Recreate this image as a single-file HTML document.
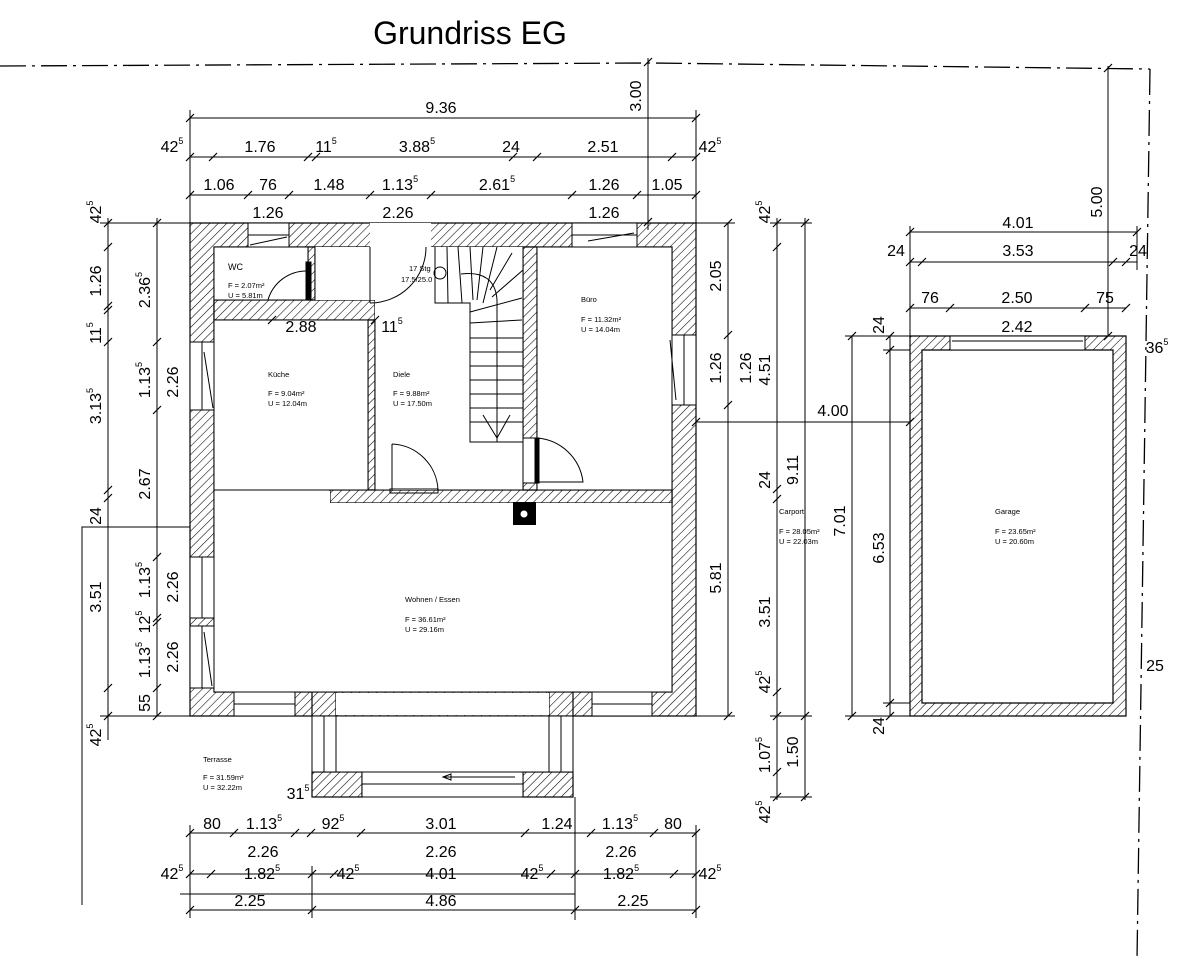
<!DOCTYPE html>
<html><head><meta charset="utf-8"><style>
html,body{margin:0;padding:0;background:#fff;}
svg{display:block;font-family:"Liberation Sans",sans-serif;}
.d{font-size:16px;}
.s{font-size:9px;}
.r{font-size:7.5px;}
</style></head><body>
<svg width="1196" height="971" viewBox="0 0 1196 971" xmlns="http://www.w3.org/2000/svg">
<defs>
<pattern id="h" width="6" height="6" patternUnits="userSpaceOnUse" patternTransform="rotate(45)">
<rect width="6" height="6" fill="#fff"/><line x1="0" y1="0" x2="0" y2="6" stroke="#000" stroke-width="1.1"/>
</pattern>
</defs>
<rect width="1196" height="971" fill="#fff"/>
<text x="470" y="44" font-size="32" text-anchor="middle">Grundriss EG</text>

<g stroke="#000" stroke-width="1.3" fill="none" stroke-dasharray="26,6,3,6">
<path d="M0 66 L650 63 L1150 69"/>
<path d="M1150 69 L1137 960"/>
</g>

<g stroke="#000" stroke-width="1.2" fill="url(#h)">
<path fill-rule="evenodd" d="M190 223 H696 V716 H190 Z M214 247 H672 V692 H214 Z"/>
<rect x="214" y="300" width="161" height="20"/>
<rect x="368" y="320" width="7" height="170"/>
<rect x="308" y="247" width="7" height="53"/>
<rect x="330" y="490" width="342" height="13"/>
<rect x="523" y="247" width="14" height="243"/>
<rect x="312" y="692" width="24" height="24"/>
<rect x="549" y="692" width="24" height="24"/>
<rect x="312" y="772" width="50" height="25"/>
<rect x="523" y="772" width="50" height="25"/>
</g>
<g fill="#fff" stroke="#000" stroke-width="1">
<rect x="248" y="223" width="41" height="24"/>
<rect x="370" y="223" width="61" height="24" stroke="none"/>
<rect x="572" y="223" width="65" height="24"/>
<rect x="190" y="342" width="24" height="68"/>
<rect x="190" y="557" width="24" height="61"/>
<rect x="190" y="626" width="24" height="62"/>
<rect x="672" y="335" width="24" height="70"/>
<rect x="234" y="692" width="61" height="24"/>
<rect x="592" y="692" width="60" height="24"/>
<rect x="336" y="693" width="213" height="22" stroke="none"/>
<rect x="336" y="716" width="213" height="56"/>
<rect x="312" y="716" width="24" height="56"/>
<rect x="549" y="716" width="24" height="56"/>
<rect x="362" y="772" width="161" height="25"/>
<rect x="214" y="320" width="154" height="170" />
<rect x="214" y="247" width="94" height="53"/>
<rect x="537" y="247" width="135" height="243"/>
<rect x="214" y="491" width="116" height="12" stroke="none"/>
<rect x="214" y="503" width="458" height="189" stroke="none"/>
<rect x="375" y="247" width="148" height="243" stroke="none"/>
<rect x="315" y="247" width="60" height="53" stroke="none"/>
</g>
<g stroke="#000" stroke-width="1" fill="none">
<path d="M214 247 V692 H672 V247"/>
<path d="M190 716 H696"/>
<path d="M315 247 V300"/>
<path d="M375 320 V490 H390 M437 490 H523"/>
<path d="M523 247 V490"/>
<path d="M214 490 H330"/>
<path d="M248 235 H289 M572 235 H637 M202 342 V410 M202 557 V618 M202 626 V688 M684 335 V405 M234 704 H295 M592 704 H652 M362 784 H523 M324 716 V772 M561 716 V772"/>
<path d="M250 245 L287 237 M588 241 L634 233 M204 352 L213 408 M204 632 L212 686 M670 340 L676 400"/>
<path d="M370 247 V303 M370 303 A56 56 0 0 0 426 247"/>
<path d="M308 271 A40 40 0 0 0 268 300"/>
<rect x="306" y="262" width="5" height="38" fill="#000"/>
<path d="M392 444 V490 M392 444 A48 48 0 0 1 438 490"/>
<rect x="390" y="489" width="48" height="4"/>
<path d="M537 438 A50 50 0 0 1 583 482 H537"/>
<rect x="535" y="438" width="4" height="45" fill="#000"/>
<rect x="523" y="438" width="12" height="45" fill="#fff"/>
<path d="M435 247 V303 H470 V442 H523"/>
<path d="M470 312 L522 298 M470 323 L522 320 M470 338 H523 M470 352 H523 M470 366 H523 M470 380 H523 M470 394 H523 M470 408 H523 M470 422 H523"/>
<path d="M447 247 L448 303 M458 247 L462 303 M470 247 L473 300 M483 247 L477 300 M497 247 L483 303 M512 253 L490 290 M523 270 L492 297"/>
<path d="M461 274 Q495 270 497 300 V442"/>
<path d="M483 415 L497 438 L510 415"/>
<circle cx="440" cy="273" r="6"/>
</g>
<rect x="513" y="502" width="23" height="23" fill="#000"/>
<circle cx="524" cy="514" r="3.5" fill="#fff"/>
<path d="M443 777 H515" stroke="#000" stroke-width="1"/>
<path d="M443 777 l8 -3 v6 z" fill="none" stroke="#000"/>

<path fill-rule="evenodd" d="M910 336 H1126 V716 H910 Z M922 350 H1113 V703 H922 Z" fill="url(#h)" stroke="#000" stroke-width="1.2"/>
<rect x="950" y="336" width="135" height="14" fill="#fff" stroke="#000"/>
<path d="M952 341 H1083" stroke="#000"/>

<path d="M190 527 H82 V905 M575 797 V920" stroke="#000" fill="none"/>

<g class="s">
<text x="228" y="270">WC</text>
<text x="228" y="288" class="r">F = 2.07m²</text><text x="228" y="298" class="r">U = 5.81m</text>
<text x="581" y="302" class="r">Büro</text>
<text x="581" y="322" class="r">F = 11.32m²</text><text x="581" y="332" class="r">U = 14.04m</text>
<text x="268" y="377" class="r">Küche</text>
<text x="268" y="396" class="r">F = 9.04m²</text><text x="268" y="406" class="r">U = 12.04m</text>
<text x="393" y="377" class="r">Diele</text>
<text x="393" y="396" class="r">F = 9.88m²</text><text x="393" y="406" class="r">U = 17.50m</text>
<text x="409" y="271" class="r">17 Stg</text><text x="401" y="282" class="r">17.5/25.0</text>
<text x="405" y="602" class="r">Wohnen / Essen</text>
<text x="405" y="622" class="r">F = 36.61m²</text><text x="405" y="632" class="r">U = 29.16m</text>
<text x="203" y="762" class="r">Terrasse</text>
<text x="203" y="780" class="r">F = 31.59m²</text><text x="203" y="790" class="r">U = 32.22m</text>
<text x="779" y="514" class="r">Carport</text>
<text x="779" y="534" class="r">F = 28.05m²</text><text x="779" y="544" class="r">U = 22.03m</text>
<text x="995" y="514" class="r">Garage</text>
<text x="995" y="534" class="r">F = 23.65m²</text><text x="995" y="544" class="r">U = 20.60m</text>
</g>

<g stroke="#000" stroke-width="1" fill="none">
<path d="M190 118 H696 M190 157 H696 M190 195 H696 M272 320 H375 M696 422 H910"/>
<path d="M910 232 H1137 M910 262 H1137 M910 308 H1126"/>
<path d="M190 833 H696 M190 874 H696 M190 910 H696 M180 894 H575"/>
<path d="M108 218 V740 M157 218 V716 M728 223 V716 M777 218 V800 M805 218 V800 M852 336 V716 M890 336 V716"/>
<path d="M648 58 V230 M1108 66 V336"/>
<path d="M190 110 V225 M696 110 V225 M100 223 H190 M100 716 H190 M696 223 H735 M696 716 H735 M770 223 H812 M770 716 H812 M770 797 H812 M845 336 H910 M845 716 H910 M883 350 H910 M883 703 H910 M910 226 V336 M1137 226 V270 M190 825 V918 M696 825 V918 M312 866 V918"/>
</g>
<g stroke="#000" stroke-width="1.2">
<path d="
M186 122 l8 -8 M692 122 l8 -8
M186 161 l8 -8 M209 161 l8 -8 M304 161 l8 -8 M312 161 l8 -8 M509 161 l8 -8 M533 161 l8 -8 M668 161 l8 -8 M692 161 l8 -8
M186 199 l8 -8 M244 199 l8 -8 M285 199 l8 -8 M366 199 l8 -8 M427 199 l8 -8 M568 199 l8 -8 M633 199 l8 -8 M692 199 l8 -8
M104 227 l8 -8 M104 251 l8 -8 M104 310 l8 -8 M104 314 l8 -8 M104 346 l8 -8 M104 494 l8 -8 M104 502 l8 -8 M104 692 l8 -8 M104 720 l8 -8
M153 227 l8 -8 M153 346 l8 -8 M153 414 l8 -8 M153 561 l8 -8 M153 622 l8 -8 M153 626 l8 -8 M153 692 l8 -8 M153 720 l8 -8
M724 227 l8 -8 M724 339 l8 -8 M724 409 l8 -8 M724 720 l8 -8
M773 227 l8 -8 M773 251 l8 -8 M773 493 l8 -8 M773 503 l8 -8 M773 696 l8 -8 M773 720 l8 -8 M773 776 l8 -8 M773 801 l8 -8
M801 227 l8 -8 M801 720 l8 -8 M801 801 l8 -8
M848 340 l8 -8 M848 720 l8 -8 M886 340 l8 -8 M886 354 l8 -8 M886 707 l8 -8 M886 720 l8 -8
M906 236 l8 -8 M1133 236 l8 -8 M906 266 l8 -8 M918 266 l8 -8 M1109 266 l8 -8 M1122 266 l8 -8
M906 312 l8 -8 M946 312 l8 -8 M1081 312 l8 -8 M1122 312 l8 -8
M692 426 l8 -8 M906 426 l8 -8 M268 324 l8 -8 M371 324 l8 -8
M186 837 l8 -8 M230 837 l8 -8 M291 837 l8 -8 M307 837 l8 -8 M357 837 l8 -8 M521 837 l8 -8 M587 837 l8 -8 M650 837 l8 -8 M692 837 l8 -8
M186 878 l8 -8 M207 878 l8 -8 M308 878 l8 -8 M330 878 l8 -8 M547 878 l8 -8 M571 878 l8 -8 M670 878 l8 -8 M692 878 l8 -8
M186 914 l8 -8 M308 914 l8 -8 M571 914 l8 -8 M692 914 l8 -8
M644 66 l8 -8 M644 226 l8 -8 M1104 72 l8 -8 M1104 340 l8 -8"/>
</g>
<g class="d" text-anchor="middle">
<text x="441" y="113">9.36</text>
<text x="172" y="152">42<tspan font-size="9" dy="-8">5</tspan></text>
<text x="260" y="152">1.76</text>
<text x="326" y="152">11<tspan font-size="9" dy="-8">5</tspan></text>
<text x="417" y="152">3.88<tspan font-size="9" dy="-8">5</tspan></text>
<text x="511" y="152">24</text>
<text x="603" y="152">2.51</text>
<text x="710" y="152">42<tspan font-size="9" dy="-8">5</tspan></text>
<text x="219" y="190">1.06</text>
<text x="268" y="190">76</text>
<text x="329" y="190">1.48</text>
<text x="400" y="190">1.13<tspan font-size="9" dy="-8">5</tspan></text>
<text x="497" y="190">2.61<tspan font-size="9" dy="-8">5</tspan></text>
<text x="604" y="190">1.26</text>
<text x="667" y="190">1.05</text>
<text x="268" y="218">1.26</text>
<text x="398" y="218">2.26</text>
<text x="604" y="218">1.26</text>
<text x="301" y="332">2.88</text>
<text x="392" y="332">11<tspan font-size="9" dy="-8">5</tspan></text>
<text x="833" y="416">4.00</text>
<text x="1018" y="228">4.01</text>
<text x="896" y="256">24</text>
<text x="1018" y="256">3.53</text>
<text x="1138" y="256">24</text>
<text x="930" y="303">76</text>
<text x="1017" y="303">2.50</text>
<text x="1105" y="303">75</text>
<text x="1017" y="332">2.42</text>
<text x="1157" y="353">36<tspan font-size="9" dy="-8">5</tspan></text>
<text x="1155" y="671">25</text>
<text x="212" y="829">80</text>
<text x="264" y="829">1.13<tspan font-size="9" dy="-8">5</tspan></text>
<text x="333" y="829">92<tspan font-size="9" dy="-8">5</tspan></text>
<text x="441" y="829">3.01</text>
<text x="557" y="829">1.24</text>
<text x="620" y="829">1.13<tspan font-size="9" dy="-8">5</tspan></text>
<text x="673" y="829">80</text>
<text x="263" y="857">2.26</text>
<text x="441" y="857">2.26</text>
<text x="621" y="857">2.26</text>
<text x="172" y="879">42<tspan font-size="9" dy="-8">5</tspan></text>
<text x="262" y="879">1.82<tspan font-size="9" dy="-8">5</tspan></text>
<text x="348" y="879">42<tspan font-size="9" dy="-8">5</tspan></text>
<text x="441" y="879">4.01</text>
<text x="532" y="879">42<tspan font-size="9" dy="-8">5</tspan></text>
<text x="621" y="879">1.82<tspan font-size="9" dy="-8">5</tspan></text>
<text x="710" y="879">42<tspan font-size="9" dy="-8">5</tspan></text>
<text x="250" y="906">2.25</text>
<text x="441" y="906">4.86</text>
<text x="633" y="906">2.25</text>
<text x="298" y="799">31<tspan font-size="9" dy="-8">5</tspan></text>
</g>
<g class="d" text-anchor="middle">
<text transform="translate(101,212) rotate(-90)">42<tspan font-size="9" dy="-8">5</tspan></text>
<text transform="translate(101,281) rotate(-90)">1.26</text>
<text transform="translate(101,333) rotate(-90)">11<tspan font-size="9" dy="-8">5</tspan></text>
<text transform="translate(101,406) rotate(-90)">3.13<tspan font-size="9" dy="-8">5</tspan></text>
<text transform="translate(101,516) rotate(-90)">24</text>
<text transform="translate(101,597) rotate(-90)">3.51</text>
<text transform="translate(101,735) rotate(-90)">42<tspan font-size="9" dy="-8">5</tspan></text>
<text transform="translate(150,290) rotate(-90)">2.36<tspan font-size="9" dy="-8">5</tspan></text>
<text transform="translate(150,380) rotate(-90)">1.13<tspan font-size="9" dy="-8">5</tspan></text>
<text transform="translate(178,382) rotate(-90)">2.26</text>
<text transform="translate(150,484) rotate(-90)">2.67</text>
<text transform="translate(150,580) rotate(-90)">1.13<tspan font-size="9" dy="-8">5</tspan></text>
<text transform="translate(178,587) rotate(-90)">2.26</text>
<text transform="translate(150,622) rotate(-90)">12<tspan font-size="9" dy="-8">5</tspan></text>
<text transform="translate(150,660) rotate(-90)">1.13<tspan font-size="9" dy="-8">5</tspan></text>
<text transform="translate(178,657) rotate(-90)">2.26</text>
<text transform="translate(150,703) rotate(-90)">55</text>
<text transform="translate(721,276) rotate(-90)">2.05</text>
<text transform="translate(721,368) rotate(-90)">1.26</text>
<text transform="translate(721,578) rotate(-90)">5.81</text>
<text transform="translate(751,368) rotate(-90)">1.26</text>
<text transform="translate(770,370) rotate(-90)">4.51</text>
<text transform="translate(770,212) rotate(-90)">42<tspan font-size="9" dy="-8">5</tspan></text>
<text transform="translate(770,480) rotate(-90)">24</text>
<text transform="translate(798,470) rotate(-90)">9.11</text>
<text transform="translate(770,612) rotate(-90)">3.51</text>
<text transform="translate(770,682) rotate(-90)">42<tspan font-size="9" dy="-8">5</tspan></text>
<text transform="translate(770,755) rotate(-90)">1.07<tspan font-size="9" dy="-8">5</tspan></text>
<text transform="translate(798,752) rotate(-90)">1.50</text>
<text transform="translate(770,812) rotate(-90)">42<tspan font-size="9" dy="-8">5</tspan></text>
<text transform="translate(845,521) rotate(-90)">7.01</text>
<text transform="translate(884,548) rotate(-90)">6.53</text>
<text transform="translate(884,325) rotate(-90)">24</text>
<text transform="translate(884,726) rotate(-90)">24</text>
<text transform="translate(641,96) rotate(-90)">3.00</text>
<text transform="translate(1102,202) rotate(-90)">5.00</text>
</g>
</svg>
</body></html>
